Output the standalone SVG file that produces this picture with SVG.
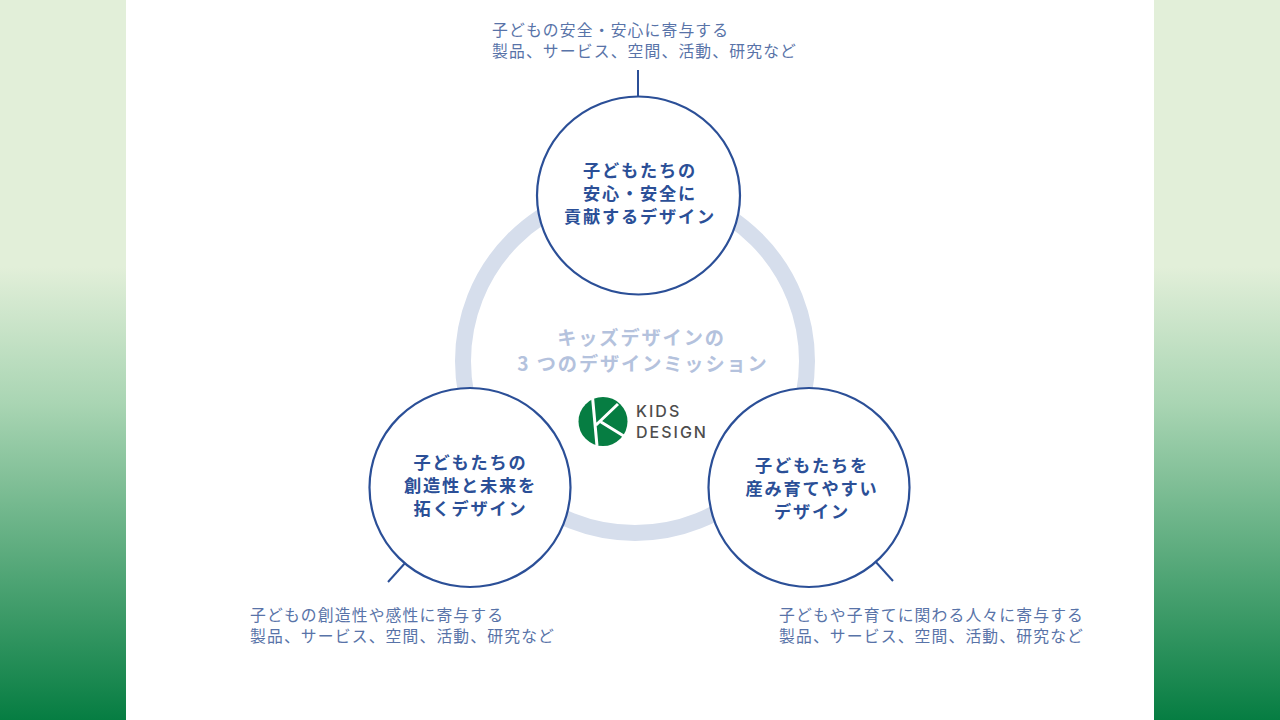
<svg xmlns="http://www.w3.org/2000/svg" width="1280" height="720" viewBox="0 0 1280 720">
<style>
.c{fill:#fff;stroke:#2b4f97;stroke-width:2.2}
.l{fill:none;stroke:#2b4f97;stroke-width:2}
text{font-family:"Noto Sans CJK JP","Noto Sans",sans-serif}
.t{font-size:17.2px;font-weight:700;fill:#2b4f97;text-anchor:middle;letter-spacing:1.8px}
.s{font-size:15.8px;fill:#5873a8;letter-spacing:1.15px}
.m{font-size:19.2px;font-weight:700;fill:#b4c2dd;text-anchor:middle;letter-spacing:1.9px}
.k{font-family:"Inter","Liberation Sans",sans-serif;font-weight:500;font-size:16px;fill:#4d4d4d;letter-spacing:2px}
</style>
<defs><linearGradient id="g" x1="0" y1="0" x2="0" y2="1">
<stop offset="0" stop-color="#e2efd9"/><stop offset=".37" stop-color="#e2efd9"/><stop offset=".56" stop-color="#a9d5b3"/><stop offset="1" stop-color="#067d42"/></linearGradient></defs>
<rect width="1280" height="720" fill="#fff"/>
<rect id="side-left" x="0" y="0" width="126" height="720" fill="url(#g)"/>
<rect id="side-right" x="1154" y="0" width="126" height="720" fill="url(#g)"/>
<circle id="ring" cx="635" cy="361" r="172" fill="none" stroke="#d6deec" stroke-width="16"/>
<g id="connectors">
<path class="l" d="M638 70V97"/><path class="l" d="M406 562L388 582"/><path class="l" d="M875 561L893 581"/>
</g>
<g id="center-title"><text class="m" x="641.500" y="344.500">キッズデザインの</text><text class="m" x="643" y="370.500">3 つのデザインミッション</text></g>
<g id="logo">
<circle cx="603" cy="421.500" r="24.500" fill="#067d42"/>
<path d="M592.500 397L597 446M596 425L618 404M601 422L627 438" fill="none" stroke="#fff" stroke-width="3"/>
<text class="k" x="636" y="417">KIDS</text><text class="k" x="636" y="438">DESIGN</text>
</g>
<g id="node-top"><ellipse class="c" cx="638.500" cy="195.500" rx="101.500" ry="99"/>
<text class="t" x="640" y="176.500">子どもたちの</text><text class="t" x="640" y="199.500">安心・安全に</text><text class="t" x="640" y="222.500">貢献するデザイン</text></g>
<g id="node-left"><ellipse class="c" cx="470" cy="487.500" rx="100.500" ry="99.500"/>
<text class="t" x="470.500" y="468.500">子どもたちの</text><text class="t" x="470.500" y="491.500">創造性と未来を</text><text class="t" x="470.500" y="514.500">拓くデザイン</text></g>
<g id="node-right"><ellipse class="c" cx="809" cy="487.500" rx="100.500" ry="99.500"/>
<text class="t" x="812" y="471.500">子どもたちを</text><text class="t" x="812" y="494.500">産み育てやすい</text><text class="t" x="812" y="517.500">デザイン</text></g>
<g id="label-top"><text class="s" x="492" y="36">子どもの安全・安心に寄与する</text><text class="s" x="492" y="57">製品、サービス、空間、活動、研究など</text></g>
<g id="label-left"><text class="s" x="250" y="621">子どもの創造性や感性に寄与する</text><text class="s" x="250" y="642">製品、サービス、空間、活動、研究など</text></g>
<g id="label-right"><text class="s" x="779" y="621">子どもや子育てに関わる人々に寄与する</text><text class="s" x="779" y="642">製品、サービス、空間、活動、研究など</text></g>
</svg>
